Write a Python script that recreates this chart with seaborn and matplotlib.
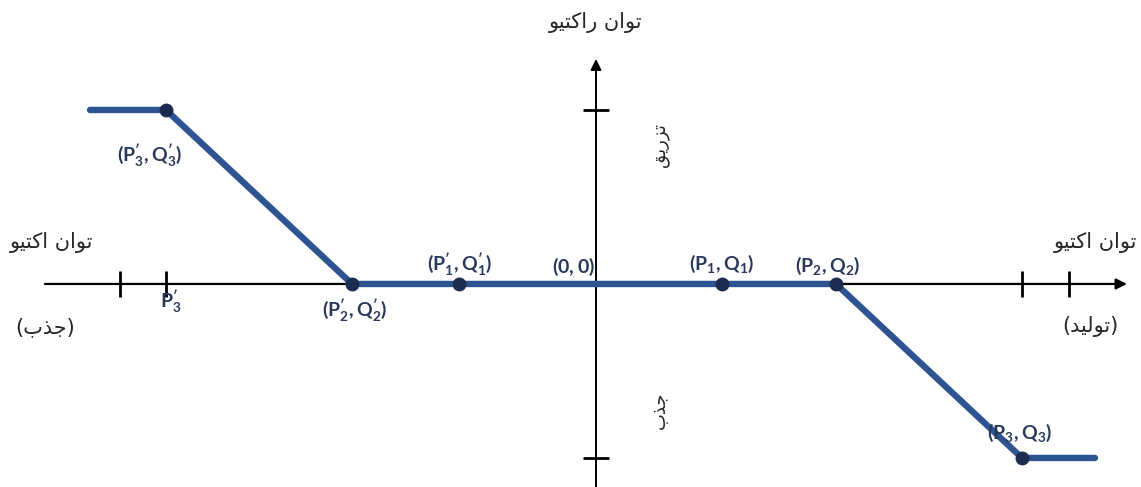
import matplotlib
matplotlib.use("Agg")
import matplotlib.pyplot as plt
import seaborn as sns
import pandas as pd

# ---- data (active power P, reactive power Q) ----
curve_p = [-5.06, -4.30, -2.44, 2.40, 4.26, 4.99]
curve_q = [1.0, 1.0, 0.0, 0.0, -1.0, -1.0]

point_p = [-4.30, -2.44, -1.37, 1.26, 2.40, 4.26]
point_q = [1.0, 0.0, 0.0, 0.0, 0.0, -1.0]
point_labels = [r"$\mathbf{(P^{\prime}_3,Q^{\prime}_3)}$",
                r"$\mathbf{(P^{\prime}_2,Q^{\prime}_2)}$",
                r"$\mathbf{(P^{\prime}_1,Q^{\prime}_1)}$",
                r"$\mathbf{(P_1,Q_1)}$",
                r"$\mathbf{(P_2,Q_2)}$",
                r"$\mathbf{(P_3,Q_3)}$"]
# label offsets in pixels (dx right, dy down)
label_dx = [-16, 3, 1, 0, -8, -2]
label_dy = [45, 26, -20, -20, -18, -25]

p_ticks = [-4.76, -4.30, 4.26, 4.73]
q_ticks = [1.0, -1.0]

title_q = "توان راکتیو"
title_p = "توان اکتیو"
absorb_p = "(جذب)"
generate_p = "(تولید)"
inject_q = "تزریق"
absorb_q = "جذب"

# ---- minimal Persian shaping for the renderer ----
FORMS = {
    'ا': ('\uFE8D', '\uFE8E', None, None),
    'ب': ('\uFE8F', '\uFE90', '\uFE91', '\uFE92'),
    'ت': ('\uFE95', '\uFE96', '\uFE97', '\uFE98'),
    'ج': ('\uFE9D', '\uFE9E', '\uFE9F', '\uFEA0'),
    'د': ('\uFEA9', '\uFEAA', None, None),
    'ذ': ('\uFEAB', '\uFEAC', None, None),
    'ر': ('\uFEAD', '\uFEAE', None, None),
    'ز': ('\uFEAF', '\uFEB0', None, None),
    'ق': ('\uFED5', '\uFED6', '\uFED7', '\uFED8'),
    'ل': ('\uFEDD', '\uFEDE', '\uFEDF', '\uFEE0'),
    'ن': ('\uFEE5', '\uFEE6', '\uFEE7', '\uFEE8'),
    'و': ('\uFEED', '\uFEEE', None, None),
    'ک': ('\uFB8E', '\uFB8F', '\uFB90', '\uFB91'),
    'ی': ('\uFBFC', '\uFBFD', '\uFBFE', '\uFBFF'),
}
MIRROR = {'(': ')', ')': '('}


def shape(text):
    out = []
    for i, ch in enumerate(text):
        if ch not in FORMS:
            out.append(ch)
            continue
        prev = text[i - 1] if i > 0 else ''
        nxt = text[i + 1] if i + 1 < len(text) else ''
        join_prev = prev in FORMS and FORMS[prev][2] is not None
        join_next = FORMS[ch][2] is not None and nxt in FORMS
        iso, fin, ini, med = FORMS[ch]
        if join_prev and join_next:
            out.append(med)
        elif join_prev:
            out.append(fin)
        elif join_next:
            out.append(ini)
        else:
            out.append(iso)
    return ''.join(MIRROR.get(c, c) for c in reversed(out))


sns.set_style("white")
plt.rcParams['font.family'] = ['DejaVu Sans']
plt.rcParams['mathtext.fontset'] = 'custom'
plt.rcParams['mathtext.rm'] = 'Lato'
plt.rcParams['mathtext.bf'] = 'Lato:bold'

W, H = 1141, 487
fig = plt.figure(figsize=(W / 100, H / 100), dpi=100)
ax = fig.add_axes([0, 0, 1, 1])
ax.set_xlim(-5.96, 5.45)
ax.set_ylim(-1.167, 1.632)
ax.axis('off')

line_col = '#2E5391'
dot_col = '#1B2C4E'
text_col = '#28385A'
lab_size = 14

# axes with arrows
ax.annotate('', xy=(5.31, 0), xytext=(-5.51, 0),
            arrowprops=dict(arrowstyle='-|>', lw=1.6, color='black',
                            mutation_scale=16, shrinkA=0, shrinkB=0), zorder=1)
ax.annotate('', xy=(0, 1.293), xytext=(0, -1.2),
            arrowprops=dict(arrowstyle='-|>', lw=1.4, color='black',
                            mutation_scale=16, shrinkA=0, shrinkB=0), zorder=1)
ax.scatter(p_ticks, [0] * len(p_ticks), marker='|', s=330, linewidths=2,
           color='black', zorder=1)
ax.scatter([0] * len(q_ticks), q_ticks, marker='_', s=330, linewidths=2,
           color='black', zorder=1)

# characteristic curve
df = pd.DataFrame({'P': curve_p, 'Q': curve_q})
sns.lineplot(data=df, x='P', y='Q', sort=False, ax=ax, color=line_col,
             linewidth=4.6, solid_capstyle='round', solid_joinstyle='round',
             zorder=3)
pts = pd.DataFrame({'P': point_p, 'Q': point_q})
sns.scatterplot(data=pts, x='P', y='Q', ax=ax, color=dot_col, s=100,
                edgecolor=dot_col, linewidth=0, zorder=4)
ax.set_xlabel('')
ax.set_ylabel('')

for p, q, lab, dx, dy in zip(point_p, point_q, point_labels, label_dx, label_dy):
    ax.annotate(lab, xy=(p, q), xytext=(dx * 0.72, -dy * 0.72),
                textcoords='offset points', ha='center', va='center',
                fontsize=lab_size, color=text_col)

ax.annotate(r"$\mathbf{P^{\prime}_3}$", xy=(p_ticks[1], 0),
            xytext=(5 * 0.72, -17 * 0.72),
            textcoords='offset points', ha='center', va='center',
            fontsize=lab_size, color=text_col)
ax.annotate(r"$\mathbf{(0,0)}$", xy=(0, 0), xytext=(-23 * 0.72, 17 * 0.72),
            textcoords='offset points', ha='center', va='center',
            fontsize=lab_size, color=text_col)

# Persian captions
ax.text(0, 1.50, shape(title_q), ha='center', va='center', fontsize=15)
ax.text(-5.44, 0.236, shape(title_p), ha='center', va='center', fontsize=15)
ax.text(5.0, 0.236, shape(title_p), ha='center', va='center', fontsize=15)
ax.text(-5.51, -0.247, shape(absorb_p), ha='center', va='center', fontsize=15)
ax.text(4.94, -0.247, shape(generate_p), ha='center', va='center', fontsize=15)
ax.text(0.64, 0.80, shape(inject_q), ha='center', va='center', fontsize=13,
        rotation=90)
ax.text(0.64, -0.724, shape(absorb_q), ha='center', va='center', fontsize=13,
        rotation=90)

fig.savefig('out.png', dpi=100)
